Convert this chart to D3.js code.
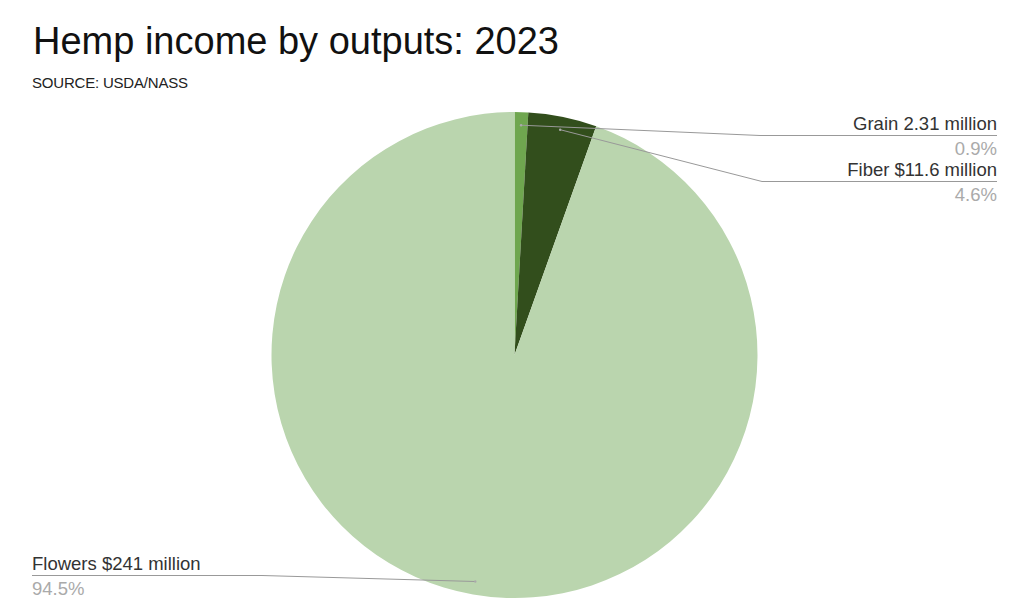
<!DOCTYPE html>
<html>
<head>
<meta charset="utf-8">
<script src="https://cdn.jsdelivr.net/npm/d3@7"></script>
<style>
  body { margin: 0; background: #fff; }
  svg text { font-family: "Liberation Sans", Arial, sans-serif; }
</style>
</head>
<body>
<main></main>
<script>
var categories = ["Grain", "Fiber", "Flowers"];
var values = [2.31, 11.6, 241];
var valueLabels = ["Grain 2.31 million", "Fiber $11.6 million", "Flowers $241 million"];
var pctLabels = ["0.9%", "4.6%", "94.5%"];
var colors = ["#6fa64f", "#324e1c", "#bad5ae"];

var w = 1024, h = 608;
var cx = 514.5, cy = 355, r = 243;

var svg = d3.select("main")
            .append("svg")
            .attr("width", w)
            .attr("height", h);

svg.append("text")
   .attr("x", 33)
   .attr("y", 54)
   .attr("font-size", "38px")
   .attr("fill", "#111")
   .text("Hemp income by outputs: 2023");

svg.append("text")
   .attr("x", 32)
   .attr("y", 88)
   .attr("font-size", "15px")
   .attr("letter-spacing", "-0.2px")
   .attr("fill", "#222")
   .text("SOURCE: USDA/NASS");

var data = categories.map(function(c, i) {
  return {name: c, value: values[i], label: valueLabels[i], pct: pctLabels[i], color: colors[i]};
});

var pie = d3.pie()
            .sort(null)
            .value(function(d) { return d.value; });
var arcs = pie(data);

var arc = d3.arc().innerRadius(0).outerRadius(r);
var anchorArc = d3.arc().innerRadius(r * 0.946).outerRadius(r * 0.946);

var g = svg.append("g")
           .attr("transform", "translate(" + cx + "," + cy + ")");

g.selectAll("path")
 .data(arcs)
 .enter()
 .append("path")
 .attr("d", arc)
 .attr("fill", function(d) { return d.data.color; });

// label layout: right side for small slices, left side for the big one
var layout = [
  {side: "right", y: 135.5, elbowX: 760},
  {side: "right", y: 181.5, elbowX: 762},
  {side: "left", y: 575.5, elbowX: 262}
];

var leaders = svg.append("g");
arcs.forEach(function(d, i) {
  var c = anchorArc.centroid(d);
  var ax = cx + c[0], ay = cy + c[1];
  var L = layout[i];
  var endX = L.side == "right" ? 997 : 32;
  leaders.append("path")
         .attr("d", "M" + ax + "," + ay + "L" + L.elbowX + "," + L.y + "L" + endX + "," + L.y)
         .attr("fill", "none")
         .attr("stroke", "#999")
         .attr("stroke-width", 1);
  leaders.append("circle")
         .attr("cx", ax)
         .attr("cy", ay)
         .attr("r", 1.2)
         .attr("fill", "#aaa");
  leaders.append("text")
         .attr("x", endX)
         .attr("y", L.y - 5.5)
         .attr("text-anchor", L.side == "right" ? "end" : "start")
         .attr("font-size", "18.5px")
         .attr("fill", "#333")
         .text(d.data.label);
  leaders.append("text")
         .attr("x", endX)
         .attr("y", L.y + 19.5)
         .attr("text-anchor", L.side == "right" ? "end" : "start")
         .attr("font-size", "18.5px")
         .attr("fill", "#aaa")
         .text(d.data.pct);
});
</script>
</body>
</html>
